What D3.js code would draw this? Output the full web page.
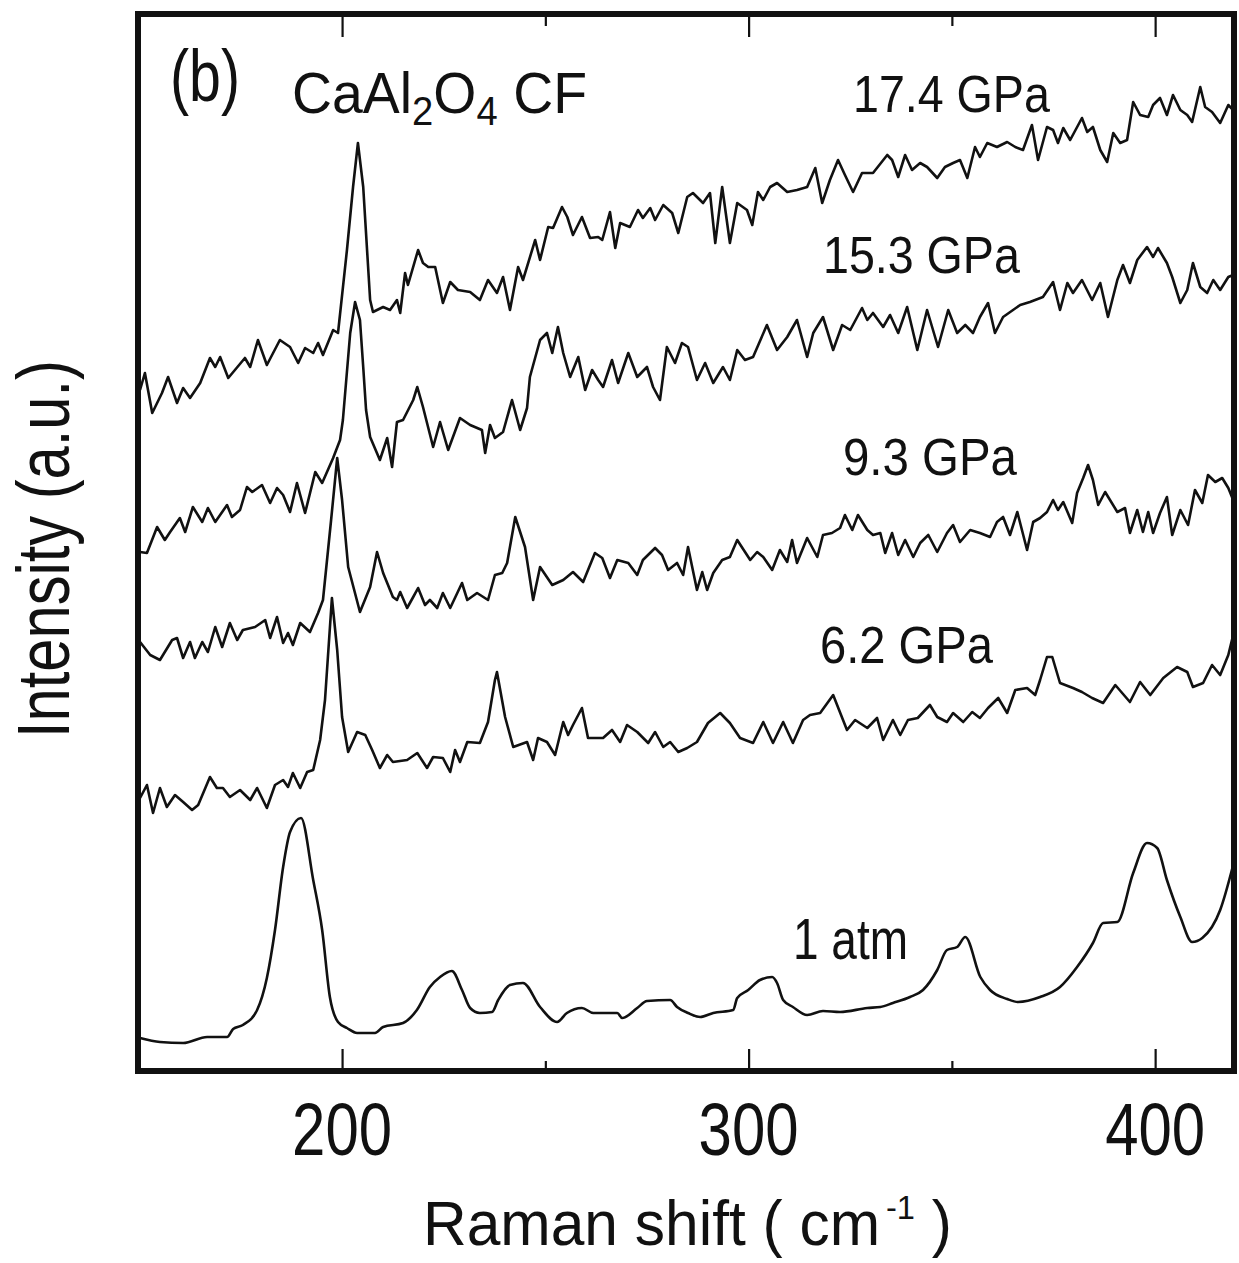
<!DOCTYPE html>
<html><head><meta charset="utf-8">
<script src="https://cdn.jsdelivr.net/npm/d3@7"></script>
<style>
body{margin:0;background:#fff}
svg{display:block}
text{font-family:"Liberation Sans",Arial,Helvetica,sans-serif;fill:#111}
</style>
</head><body>
<svg id="chart" width="1239" height="1263"></svg>
<script>
// ---------------- DATA ----------------
const xTicks = [200, 300, 400];
const xMinorTicks = [250, 350];
const seriesNames = ["17.4 GPa", "15.3 GPa", "9.3 GPa", "6.2 GPa", "1 atm"];

// Raman shift (cm-1), intensity (a.u., offset traces)
const p174 = [[150.3,682],[151.5,699],[153.3,659],[155.7,679],[157.2,695],[159.4,669],[160.9,684],[162.6,674],[165.1,689],[167.5,714],[168.8,705],[170.0,715],[172.0,694],[176.1,714],[177.4,705],[179.3,732],[181.5,707],[184.7,732],[187.2,725],[189.2,709],[190.9,724],[192.9,719],[194.1,729],[195.3,717],[197.8,742],[199.0,739],[201.2,822],[202.7,885],[203.9,929],[205.2,885],[206.9,772],[207.6,760],[210.1,765],[211.8,762],[213.5,772],[214.3,759],[215.5,799],[216.2,787],[218.7,822],[219.9,809],[221.2,805],[222.9,805],[224.8,769],[226.6,790],[228.5,782],[231.5,780],[233.9,772],[235.9,792],[238.1,779],[239.6,795],[241.3,762],[243.3,805],[244.5,792],[247.5,832],[248.7,812],[250.7,845],[251.9,844],[254.1,865],[255.4,855],[256.8,837],[259.0,855],[261.0,834],[263.0,835],[264.0,832],[265.9,860],[267.2,824],[268.4,849],[270.8,845],[272.8,862],[274.0,854],[275.8,864],[277.0,852],[279.0,867],[281.2,859],[282.7,839],[284.9,875],[286.3,879],[288.8,869],[290.5,879],[291.8,829],[293.5,885],[295.4,829],[297.2,869],[299.6,862],[300.9,847],[302.3,880],[303.6,872],[305.3,885],[307.0,889],[309.5,880],[311.9,882],[314.4,885],[316.4,904],[318.1,869],[320.0,892],[322.0,912],[323.7,897],[325.7,880],[327.9,899],[330.6,899],[334.1,917],[335.3,912],[336.8,895],[338.5,917],[340.2,902],[342.2,909],[343.9,905],[346.4,894],[348.3,905],[350.3,909],[352.0,912],[353.8,894],[355.7,925],[356.9,915],[358.7,929],[361.1,925],[363.6,930],[365.6,925],[367.5,922],[369.7,947],[371.2,912],[373.4,945],[374.9,942],[376.1,929],[377.4,944],[379.1,932],[382.0,954],[383.3,940],[384.7,945],[386.5,922],[388.2,910],[389.7,939],[391.4,929],[393.1,932],[394.6,970],[396.3,957],[398.3,955],[399.5,967],[401.2,974],[402.9,957],[404.4,977],[406.2,962],[407.9,957],[409.1,950],[411.1,985],[412.3,965],[414.0,960],[416.0,949],[418.0,967],[419.2,962]];

const p153 = [[150.3,520],[152.0,519],[154.5,545],[156.4,532],[157.7,540],[160.1,554],[161.4,540],[163.3,565],[165.6,550],[167.0,564],[168.8,550],[171.7,567],[172.9,555],[174.9,562],[176.6,585],[177.9,580],[180.3,587],[182.3,569],[184.0,584],[185.5,577],[187.2,560],[188.9,589],[190.9,559],[193.4,600],[195.1,589],[197.8,614],[199.5,632],[200.2,652],[202.0,739],[203.2,770],[204.4,752],[205.2,705],[205.9,662],[206.9,635],[209.3,612],[211.1,634],[212.3,605],[213.5,650],[215.0,652],[217.5,672],[218.5,685],[219.9,665],[222.4,625],[224.1,650],[226.1,622],[229.0,654],[231.5,647],[234.4,642],[235.2,619],[236.4,647],[237.6,634],[239.6,640],[241.8,672],[243.8,642],[245.5,664],[246.2,695],[248.7,732],[250.4,739],[251.7,719],[253.1,745],[254.4,719],[256.1,695],[258.1,715],[259.8,682],[261.5,702],[263.0,692],[264.2,685],[266.4,712],[267.9,689],[270.4,719],[272.6,695],[275.0,705],[276.5,685],[278.2,672],[279.9,725],[281.9,709],[283.6,729],[285.1,725],[287.3,692],[289.3,709],[291.3,689],[293.7,705],[295.4,692],[297.2,722],[299.1,712],[301.1,715],[304.5,747],[307.0,722],[309.5,735],[311.9,752],[314.4,715],[315.9,739],[318.3,755],[320.8,722],[323.0,747],[325.0,742],[327.9,764],[329.2,752],[330.6,759],[333.1,745],[334.8,757],[336.8,739],[339.0,765],[341.5,722],[343.9,762],[346.6,725],[349.1,762],[351.3,739],[353.3,747],[355.2,739],[356.9,755],[358.9,769],[360.6,739],[362.6,755],[366.8,767],[369.2,770],[372.4,775],[374.9,790],[376.6,762],[378.4,789],[379.8,779],[382.0,792],[384.5,772],[386.5,789],[388.4,755],[390.7,792],[392.1,807],[393.8,789],[395.6,812],[398.0,825],[399.5,815],[400.7,824],[402.9,809],[404.2,795],[406.2,769],[407.9,782],[409.3,809],[411.1,785],[412.8,779],[414.3,792],[416.0,782],[418.0,795],[419.2,797]];

const p93 = [[150.3,430],[152.8,417],[155.2,412],[158.2,432],[159.4,434],[160.9,414],[162.6,430],[163.8,414],[165.6,430],[167.0,420],[168.8,445],[170.5,425],[172.4,449],[174.2,432],[175.6,442],[178.6,445],[181.1,452],[182.3,434],[184.0,455],[185.5,429],[186.7,439],[187.9,427],[189.7,449],[192.1,440],[194.1,459],[195.3,472],[197.3,552],[198.8,614],[200.0,572],[201.5,505],[204.4,460],[206.9,485],[208.6,520],[210.1,499],[212.5,475],[213.5,472],[214.3,480],[216.0,464],[217.5,475],[218.7,484],[220.4,467],[221.6,472],[223.4,464],[224.8,479],[226.6,464],[229.5,489],[230.8,472],[233.2,479],[235.9,472],[237.6,497],[239.4,499],[240.6,509],[242.6,555],[245.0,525],[247.0,472],[248.7,505],[251.7,487],[254.4,492],[256.8,500],[259.3,490],[262.2,519],[264.0,514],[265.9,494],[267.7,512],[270.4,509],[272.6,497],[274.0,512],[277.0,524],[278.7,517],[280.2,502],[282.4,509],[283.9,497],[285.1,525],[287.3,482],[288.6,500],[289.8,482],[291.3,499],[293.5,512],[295.4,515],[297.2,532],[300.4,512],[302.1,520],[303.6,515],[305.8,502],[307.7,522],[309.5,510],[310.7,532],[311.9,509],[314.4,534],[316.9,515],[318.3,537],[320.5,539],[322.5,544],[323.7,557],[325.5,542],[326.9,557],[329.2,542],[330.6,537],[332.4,539],[333.6,519],[335.3,539],[336.8,517],[338.5,532],[340.5,515],[342.2,529],[344.2,537],[346.4,520],[348.8,539],[350.3,547],[352.0,530],[354.5,542],[356.9,539],[359.4,535],[361.1,550],[362.6,555],[364.3,537],[366.1,560],[368.5,522],[370.0,550],[371.7,554],[373.4,560],[374.9,572],[376.1,562],[377.4,570],[379.6,549],[380.8,579],[382.3,594],[383.5,607],[384.7,592],[386.0,567],[387.7,580],[390.7,560],[392.6,564],[393.8,539],[395.6,562],[397.0,540],[398.3,560],[399.5,539],[401.2,559],[402.9,575],[404.2,537],[406.2,562],[408.1,547],[409.8,582],[411.6,569],[413.0,597],[414.8,590],[416.5,594],[418.0,584],[419.2,572]];

const p62 = [[150.3,274],[152.0,287],[153.5,259],[155.2,284],[156.9,265],[158.9,277],[160.9,270],[163.1,262],[164.6,267],[167.5,295],[169.2,284],[170.7,284],[172.4,275],[174.9,282],[177.4,272],[179.1,284],[181.5,264],[183.5,287],[185.5,292],[186.7,285],[187.9,299],[189.7,284],[191.4,300],[192.9,302],[194.6,332],[195.8,372],[197.5,474],[198.8,422],[200.0,355],[201.5,320],[203.7,340],[205.7,337],[207.4,322],[209.3,304],[211.1,317],[212.5,310],[216.0,312],[218.5,319],[220.9,304],[222.4,315],[224.8,314],[226.6,300],[227.8,322],[229.0,310],[230.8,330],[233.9,329],[235.9,350],[237.6,392],[238.1,400],[240.1,355],[242.1,325],[245.5,330],[247.0,312],[248.2,334],[250.4,330],[252.4,317],[254.4,350],[255.6,337],[256.8,347],[259.0,364],[260.5,334],[264.2,334],[266.4,342],[268.4,330],[270.1,347],[272.6,340],[275.3,329],[277.0,340],[279.0,325],[280.7,330],[282.7,320],[284.9,324],[287.3,330],[290.0,349],[293.0,359],[295.4,349],[297.9,334],[301.1,329],[303.6,350],[306.0,329],[308.5,350],[310.9,329],[313.4,352],[315.1,357],[317.6,359],[320.8,377],[324.2,342],[326.2,352],[329.2,344],[331.6,354],[333.1,332],[335.5,352],[337.3,337],[339.2,352],[341.6,354],[344.6,367],[346.4,355],[348.8,350],[350.3,359],[352.8,350],[355.0,360],[356.9,354],[358.9,364],[361.4,374],[363.6,359],[365.6,382],[368.5,384],[370.5,377],[371.7,392],[373.4,415],[374.7,415],[376.6,389],[379.8,384],[382.0,380],[384.5,374],[387.2,369],[390.2,387],[393.8,370],[396.3,390],[398.8,377],[402.0,394],[405.4,405],[407.9,400],[409.3,385],[411.8,389],[414.0,407],[416.0,397],[418.0,417],[419.2,437]];

const p1atm = [[150.3,34],[155.2,30],[160.9,29],[166.8,35],[171.7,35],[173.2,43],[175.6,47],[179.1,62],[181.5,94],[183.5,142],[185.5,205],[187.2,240],[189.9,254],[192.9,192],[195.1,142],[197.0,75],[199.0,50],[201.2,44],[203.7,39],[208.1,39],[210.1,45],[215.0,49],[218.4,62],[221.6,85],[224.1,95],[227.0,101],[229.5,82],[231.5,64],[233.9,59],[236.9,60],[238.4,72],[241.3,87],[244.5,89],[248.7,65],[252.9,50],[255.3,59],[259.0,64],[261.8,59],[267.7,59],[268.9,54],[272.6,64],[275.0,71],[280.7,72],[282.4,65],[285.1,59],[288.1,55],[291.3,59],[296.2,62],[297.2,74],[299.9,82],[302.8,92],[305.8,95],[307.0,89],[308.5,72],[310.9,65],[314.4,57],[318.3,61],[322.5,60],[329.2,64],[332.4,65],[335.5,69],[339.7,75],[342.9,82],[346.4,102],[348.8,122],[351.3,125],[353.3,135],[357.0,95],[359.4,82],[363.6,73],[366.3,70],[371.7,75],[376.6,85],[380.8,105],[384.7,129],[387.2,149],[390.7,150],[394.6,199],[398.0,229],[400.5,224],[402.9,192],[406.2,155],[409.1,130],[411.6,134],[416.0,162],[419.2,207]];

const seriesData = [p174, p153, p93, p62, p1atm];

// ---------------- LAYOUT ----------------
const W = 1239, H = 1263;
const M = {l: 138, r: 1234, t: 14, b: 1071};
// label boxes: left x, baseline y, target width, font size
const labelLayout = [
  {x: 853, y: 112, w: 197, fs: 52},
  {x: 823, y: 273, w: 197, fs: 52},
  {x: 843, y: 475, w: 174, fs: 52},
  {x: 820, y: 663, w: 173, fs: 52},
  {x: 793, y: 959, w: 115, fs: 58}
];
const smoothSeries = [false, false, false, false, true];

const svg = d3.select("#chart");
svg.append("rect").attr("width", W).attr("height", H).attr("fill", "#fff");

const x = d3.scaleLinear().domain([149.8, 419.4]).range([M.l, M.r]);
const y = d3.scaleLinear().domain([1, 1058]).range([M.b, M.t]);

svg.append("defs").append("clipPath").attr("id", "clip")
  .append("rect").attr("x", M.l).attr("y", M.t).attr("width", M.r - M.l).attr("height", M.b - M.t);

// traces
const lineSharp = d3.line().x(d => x(d[0])).y(d => y(d[1])).curve(d3.curveLinear);
const lineSmooth = d3.line().x(d => x(d[0])).y(d => y(d[1])).curve(d3.curveMonotoneX);
svg.append("g").attr("clip-path", "url(#clip)")
  .selectAll("path").data(seriesData).join("path")
  .attr("d", (d, i) => (smoothSeries[i] ? lineSmooth : lineSharp)(d))
  .attr("fill", "none").attr("stroke", "#111")
  .attr("stroke-width", 2.6).attr("stroke-linejoin", "round");

// ticks (inside)
function tickAxis(gen, yPos, vals, size) {
  const g = svg.append("g").attr("transform", `translate(0,${yPos})`)
    .call(gen(x).tickValues(vals).tickSize(size).tickFormat(""));
  g.select(".domain").remove();
  g.selectAll("line").attr("stroke", "#111").attr("stroke-width", 2.2);
}
tickAxis(d3.axisBottom, M.b, xTicks, -22);
tickAxis(d3.axisBottom, M.b, xMinorTicks, -10);
tickAxis(d3.axisTop, M.t, xTicks, -23);
tickAxis(d3.axisTop, M.t, xMinorTicks, -12);

// frame
svg.append("rect").attr("x", M.l).attr("y", M.t).attr("width", M.r - M.l).attr("height", M.b - M.t)
  .attr("fill", "none").attr("stroke", "#111").attr("stroke-width", 6);

// helper to fit text into a target width (horizontal scale only)
function fitLeft(g, left, baseline, width) {
  const bb = g.node().getBBox();
  const s = width / bb.width;
  g.attr("transform", `translate(${left - bb.x * s},${baseline}) scale(${s},1)`);
}

// tick labels
xTicks.forEach(t => {
  const g = svg.append("g");
  g.append("text").attr("text-anchor", "middle").attr("font-size", 74).text(t);
  const bb = g.node().getBBox();
  const s = 100 / bb.width;
  g.attr("transform", `translate(${x(t)},1155) scale(${s},1)`);
});

// x axis title
{
  const g = svg.append("g");
  const t = g.append("text").attr("font-size", 63);
  t.append("tspan").text("Raman shift ( cm");
  t.append("tspan").attr("font-size", 34).attr("dy", -26).attr("dx", 6).text("-1");
  t.append("tspan").attr("dy", 26).text(" )");
  fitLeft(g, 423, 1245, 529);
}

// y axis title
{
  const g = svg.append("g");
  g.append("text").attr("text-anchor", "middle").attr("font-size", 74).text("Intensity (a.u.)");
  const bb = g.node().getBBox();
  const s = 378 / bb.width;
  g.attr("transform", `translate(69,549) rotate(-90) scale(${s},1)`);
}

// panel label and compound
{
  const g = svg.append("g");
  g.append("text").attr("font-size", 72).text("(b)");
  fitLeft(g, 170, 101, 70);
}
{
  const g = svg.append("g");
  const t = g.append("text").attr("font-size", 58);
  t.append("tspan").text("CaAl");
  t.append("tspan").attr("font-size", 40).attr("dy", 12).text("2");
  t.append("tspan").attr("dy", -12).text("O");
  t.append("tspan").attr("font-size", 40).attr("dy", 12).text("4");
  t.append("tspan").attr("dy", -12).text(" CF");
  fitLeft(g, 292, 113, 295);
}

// series labels
seriesNames.forEach((name, i) => {
  const L = labelLayout[i];
  const g = svg.append("g");
  g.append("text").attr("font-size", L.fs).text(name);
  fitLeft(g, L.x, L.y, L.w);
});
</script>
</body></html>
